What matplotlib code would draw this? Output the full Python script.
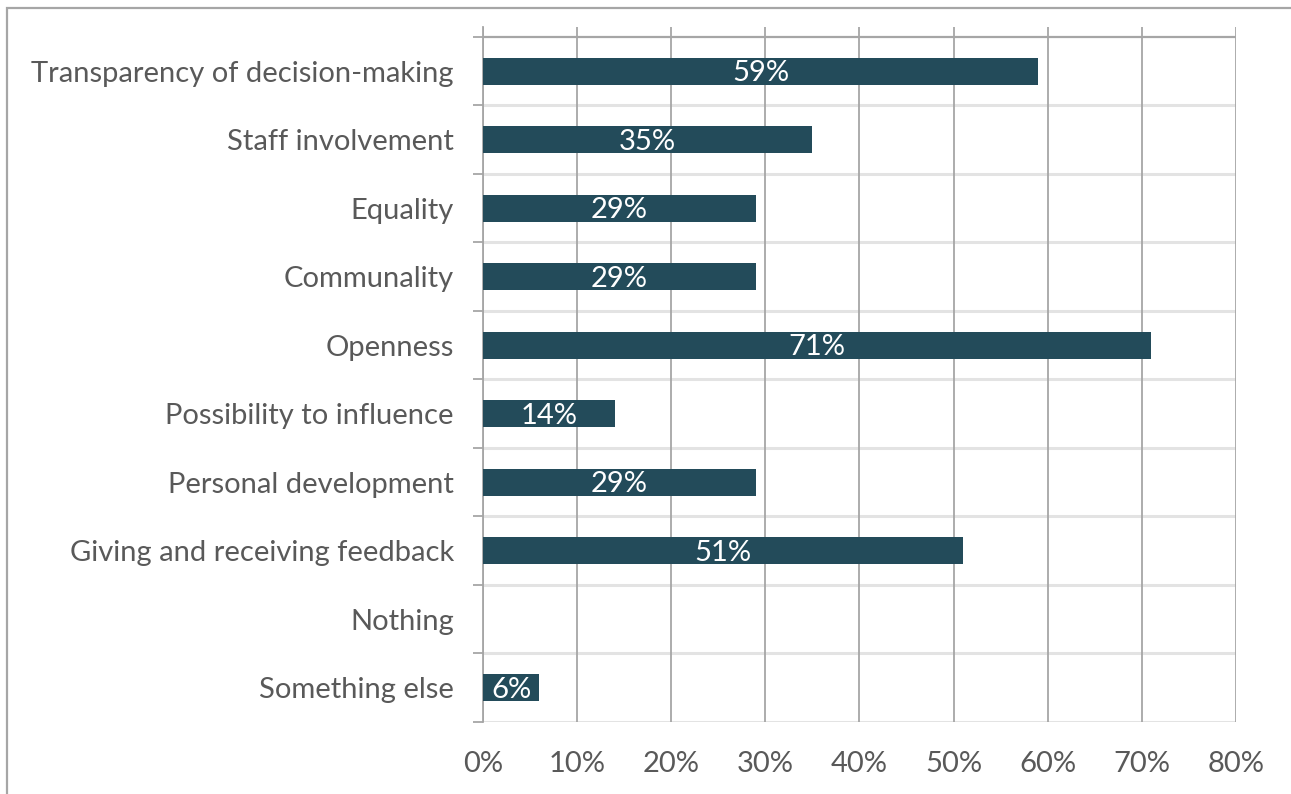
import numpy as np
import matplotlib.pyplot as plt
from matplotlib.patches import Rectangle
from matplotlib.ticker import MultipleLocator, PercentFormatter

categories = [
    "Transparency of decision-making",
    "Staff involvement",
    "Equality",
    "Communality",
    "Openness",
    "Possibility to influence",
    "Personal development",
    "Giving and receiving feedback",
    "Nothing",
    "Something else",
]
shares = [59, 35, 29, 29, 71, 14, 29, 51, 0, 6]

bar_color = "#234b5a"
text_color = "#595959"
grid_dark = "#a6a6a6"
grid_light = "#e3e3e3"
fs = 21

plt.rcParams["font.family"] = ["Lato", "DejaVu Sans"]

fig = plt.figure(figsize=(12.91, 7.94), dpi=100)
ax = fig.add_axes([0.3741, 0.0907, 0.5833, 0.8753])

y = np.arange(len(categories))
ax.barh(y, shares, height=0.4, color=bar_color, zorder=3)

for yi, v in zip(y, shares):
    if v > 0:
        ax.text(v / 2, yi + 0.03, f"{v}%", ha="center", va="center",
                color="white", fontsize=fs, zorder=4)

ax.set_xlim(0, 80)
ax.set_ylim(len(categories) - 0.5, -0.646)

# vertical grid at every 10%
ax.xaxis.set_major_locator(MultipleLocator(10))
ax.xaxis.set_major_formatter(PercentFormatter(decimals=0))
ax.grid(axis="x", color=grid_dark, linewidth=1.3, zorder=0)

# category separators
bounds = np.arange(len(categories) + 1) - 0.5
ax.hlines(bounds[1:], 0, 80, color=grid_light, linewidth=2.2, zorder=1)
ax.hlines(bounds[0], 0, 80, color=grid_dark, linewidth=1.6, zorder=1)

ax.set_yticks(y)
ax.set_yticklabels(categories)
ax.set_yticks(bounds, minor=True)
ax.tick_params(axis="y", which="major", length=0, pad=21,
               labelsize=fs, labelcolor=text_color)
ax.tick_params(axis="y", which="minor", length=7, width=1.3, color=grid_dark)
ax.tick_params(axis="x", length=0, pad=21, labelsize=fs, labelcolor=text_color)

for side in ["top", "right", "bottom"]:
    ax.spines[side].set_visible(False)
ax.spines["left"].set_color(grid_dark)
ax.spines["left"].set_linewidth(1.3)

# outer chart frame, running off the right and bottom edges
fig.patches.append(Rectangle((7 / 1291, -0.1), 1.2, 1 - 8 / 794 + 0.1,
                             transform=fig.transFigure, fill=False,
                             edgecolor=grid_dark, linewidth=1.6))

fig.savefig("out.png", dpi=100)
